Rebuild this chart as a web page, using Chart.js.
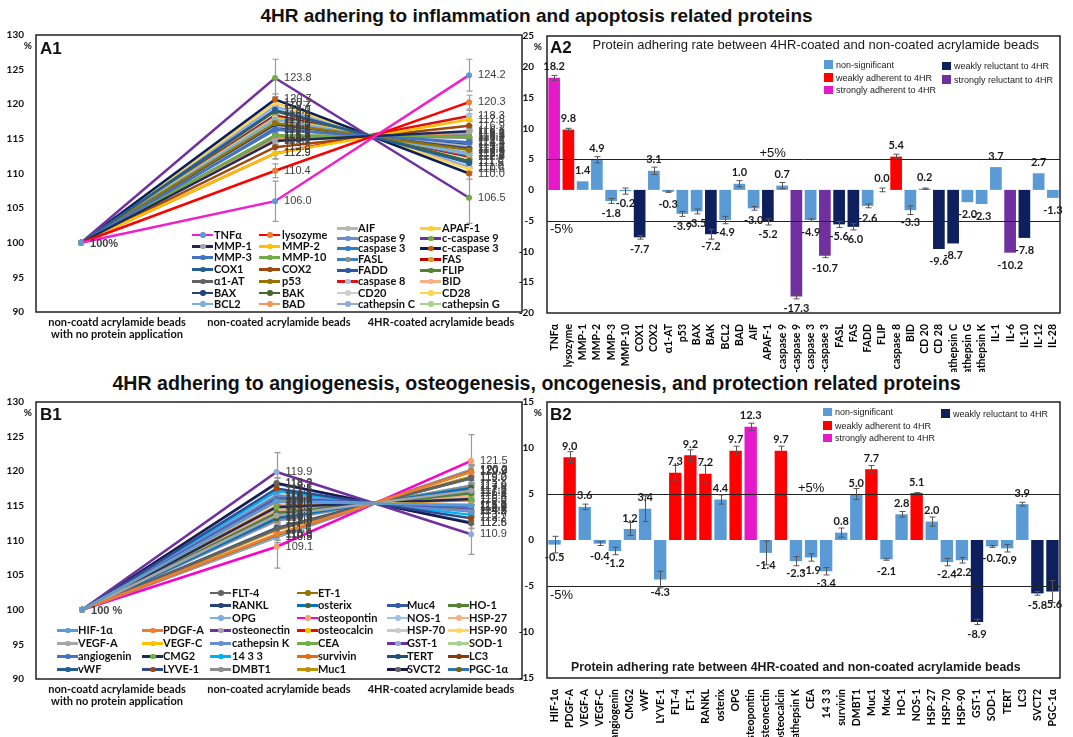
<!DOCTYPE html>
<html><head><meta charset="utf-8"><title>4HR adhering proteins</title>
<script src="https://cdn.jsdelivr.net/npm/chart.js@4.4.1/dist/chart.umd.min.js"></script>
<style>
html,body{margin:0;padding:0;background:#fff}
body{width:1073px;height:737px;position:relative;overflow:hidden}
canvas{position:absolute}
.title{position:absolute;left:0;width:1073px;text-align:center;font-family:"Liberation Sans",Arial,sans-serif;font-weight:bold;color:#111;line-height:22px}
.li{position:absolute;height:12px;white-space:nowrap;font:bold 11px Lato,sans-serif;color:#111;line-height:12px}
.li .ln{position:absolute;left:0;top:5px;width:21px;height:2.5px}
.li .dt{position:absolute;left:8px;top:3.5px;width:5.5px;height:5.5px;border-radius:50%}
.li .tx{position:absolute;top:0}
.bl{position:absolute;height:10px;font:9px "Liberation Sans",Arial,sans-serif;color:#222;white-space:nowrap;line-height:10px}
.bl .sq{position:absolute;left:0;top:0.5px;width:9px;height:8.5px}
.bl .tx{position:absolute;left:12px;top:0}
</style></head><body>
<div class="title" style="top:5px;font-size:19px">4HR adhering to inflammation and apoptosis related proteins</div>
<div class="title" style="top:372px;font-size:19.6px">4HR adhering to angiogenesis, osteogenesis, oncogenesis, and protection related proteins</div>
<canvas id="a1" width="530" height="372" style="left:0;top:0"></canvas>
<canvas id="a2" width="568" height="372" style="left:505px;top:0"></canvas>
<canvas id="b1" width="530" height="365" style="left:0;top:372px"></canvas>
<canvas id="b2" width="568" height="365" style="left:505px;top:372px"></canvas>
<div id="legends"></div>
<script>
// ================= DATA =================
const X_LABELS = [['non-coatd acrylamide beads','with no protein application'],['non-coated acrylamide beads'],['4HR-coated acrylamide beads']];
const START_VALUE = 100;

// ---- A1 (line chart) ----
const A1_names = ['TNFα','lysozyme','MMP-1','MMP-2','MMP-3','MMP-10','COX1','COX2','α1-AT','p53','BAX','BAK','BCL2','BAD','AIF','APAF-1','caspase 9','c-caspase 9','caspase 3','c-caspase 3','FASL','FAS','FADD','FLIP','caspase 8','BID','CD20','CD28','cathepsin C','cathepsin G'];
const A1_mid   = [106.0,110.4,114.7,112.9,116.3,115.5,119.2,113.8,115.5,117.3,117.1,119.0,117.8,114.9,116.9,118.0,115.0,123.8,117.8,120.7,118.2,118.4,116.7,115.4,112.9,117.0,115.3,120.2,119.7,116.4];
const A1_right = [124.2,120.3,116.1,117.8,114.5,115.3,111.5,116.9,115.2,113.4,113.6,111.8,112.9,115.9,113.9,112.8,115.7,106.5,112.9,110.0,112.6,112.4,114.1,115.4,118.3,113.7,115.5,110.6,111.0,114.4];
const A1_errMid   = [2.9,1.0,0.8,0.8,0.8,0.8,0.8,0.8,0.8,0.8,0.8,0.8,0.8,0.8,0.8,0.8,0.8,2.7,0.8,0.8,0.8,0.8,0.8,0.8,0.8,0.8,0.8,0.8,0.8,0.8];
const A1_errRight = [2.3,1.0,0.8,0.8,0.8,0.8,0.8,0.8,0.8,0.8,0.8,0.8,0.8,0.8,0.8,0.8,0.8,3.7,0.8,0.8,0.8,0.8,0.8,0.8,0.8,0.8,0.8,0.8,0.8,0.8];
const A1_yTicks = {min:90, max:130, step:5};

// ---- A2 (bar chart) ----
const A2_cats = ['TNFα','lysozyme','MMP-1','MMP-2','MMP-3','MMP-10','COX1','COX2','α1-AT','p53','BAX','BAK','BCL2','BAD','AIF','APAF-1','caspase 9','c-caspase 9','caspase 3','c-caspase 3','FASL','FAS','FADD','FLIP','caspase 8','BID','CD 20','CD 28','cathepsin C','cathepsin G','cathepsin K','IL-1','IL-6','IL-10','IL-12','IL-28'];
const A2_values = [18.2,9.8,1.4,4.9,-1.8,-0.2,-7.7,3.1,-0.3,-3.9,-3.5,-7.2,-4.9,1.0,-3.0,-5.2,0.7,-17.3,-4.9,-10.7,-5.6,-6.0,-2.6,0.0,5.4,-3.3,0.2,-9.6,-8.7,-2.0,-2.3,3.7,-10.2,-7.8,2.7,-1.3];
const A2_err = [0.4,0.2,0,0.5,0.4,0.5,0.3,0.6,0.1,0.4,0.4,0.8,0.6,0.5,0.3,0.5,0.5,0.4,0.2,0.3,0.5,0.5,0.3,0.3,0.4,0.7,0.1,0,0,0,0,0,0,0,0,0];
const A2_class = ['sa','wa','ns','ns','ns','ns','wr','ns','ns','ns','ns','wr','ns','ns','ns','wr','ns','sr','ns','sr','wr','wr','ns','ns','wa','ns','ns','wr','wr','ns','ns','ns','sr','wr','ns','ns'];
const A2_yTicks = {min:-20, max:25, step:5};

// ---- B1 (line chart) ----
const B1_names = ['HIF-1α','PDGF-A','VEGF-A','VEGF-C','angiogenin','CMG2','vWF','LYVE-1','FLT-4','ET-1','RANKL','osterix','OPG','osteopontin','osteonectin','osteocalcin','cathepsin K','CEA','14 3 3','survivin','DMBT1','Muc1','Muc4','HO-1','NOS-1','HSP-27','HSP-70','HSP-90','GST-1','SOD-1','TERT','LC3','SVCT2','PGC-1α'];
const B1_mid   = [115.6,110.9,113.6,115.6,116.0,114.8,113.7,117.5,111.7,110.8,111.8,113.2,110.5,109.1,116.1,110.5,116.5,116.3,117.1,115.0,112.9,111.5,116.4,114.0,112.8,114.4,116.6,116.5,119.9,115.7,115.8,113.4,118.3,118.2];
const B1_right = [115.1,119.9,117.2,115.2,114.8,116.0,117.1,113.2,119.0,120.0,119.0,117.6,120.2,121.5,114.7,120.2,114.2,114.4,113.7,115.8,117.9,119.2,114.3,116.8,117.9,116.4,114.2,114.3,110.9,115.0,114.9,117.3,112.5,112.6];
const B1_errMid   = [0.8,0.8,0.8,0.8,0.8,0.8,0.8,0.8,0.8,0.8,0.8,0.8,0.8,3.1,0.8,0.8,0.8,0.8,0.8,0.8,0.8,0.8,0.8,0.8,0.8,0.8,0.8,0.8,2.8,0.8,0.8,0.8,0.8,0.8];
const B1_errRight = [0.8,0.8,0.8,0.8,0.8,0.8,0.8,0.8,0.8,0.8,0.8,0.8,0.8,3.8,0.8,0.8,0.8,0.8,0.8,0.8,0.8,0.8,0.8,0.8,0.8,0.8,0.8,0.8,2.9,0.8,0.8,0.8,0.8,0.8];
const B1_yTicks = {min:90, max:130, step:5};

// ---- B2 (bar chart) ----
const B2_cats = ['HIF-1α','PDGF-A','VEGF-A','VEGF-C','angiogenin','CMG2','vWF','LYVE-1','FLT-4','ET-1','RANKL','osterix','OPG','osteopontin','osteonectin','osteocalcin','cathepsin K','CEA','14 3 3','survivin','DMBT1','Muc1','Muc4','HO-1','NOS-1','HSP-27','HSP-70','HSP-90','GST-1','SOD-1','TERT','LC3','SVCT2','PGC-1α'];
const B2_values = [-0.5,9.0,3.6,-0.4,-1.2,1.2,3.4,-4.3,7.3,9.2,7.2,4.4,9.7,12.3,-1.4,9.7,-2.3,-1.9,-3.4,0.8,5.0,7.7,-2.1,2.8,5.1,2.0,-2.4,-2.2,-8.9,-0.7,-0.9,3.9,-5.8,-5.6];
const B2_err = [0.9,0.6,0.3,0.2,0.4,0.7,1.4,0.9,0.8,0.6,0.9,0.5,0.5,0.4,1.3,0.5,0.5,0.4,0.4,0.5,0.6,0.4,0.1,0.3,0.05,0.5,0.4,0.3,0.3,0.1,0.4,0.2,0.2,1.2];
const B2_class = ['ns','wa','ns','ns','ns','ns','ns','ns','wa','wa','wa','ns','wa','sa','ns','wa','ns','ns','ns','ns','ns','wa','ns','ns','wa','ns','ns','ns','wr','ns','ns','ns','wr','wr'];
const B2_yTicks = {min:-15, max:15, step:5};

const REF_LINES = [5, -5];

// ================= STYLES =================
const A1_lineCol = ['#f01ecb','#ff0000','#1f2a5c','#ffc000','#4472c4','#70ad47','#255e91','#9e480e','#636363','#997300','#264478','#43682b','#7cafdd','#f1975a','#b7b7b7','#ffcd33','#698ed0','#7030a0','#327dc2','#0b1f5c','#3d7fc1','#c00000','#2f55a4','#548235','#e01010','#f4b183','#cfcfcf','#ffd54f','#8faadc','#a9d18e'];
const A1_markCol = ['#5b9bd5','#ed7d31','#a5a5a5','#ffc000','#4472c4','#70ad47','#255e91','#9e480e','#636363','#997300','#264478','#43682b','#7cafdd','#f1975a','#b7b7b7','#ffcd33','#698ed0','#70ad47','#327dc2','#c55a11','#8c8c8c','#d4a017','#2f55a4','#548235','#9dc3e6','#f4b183','#cfcfcf','#ffd54f','#8faadc','#a9d18e'];
const B1_lineCol = ['#5b9bd5','#ed7d31','#a5a5a5','#ffc000','#4472c4','#1f2a5c','#255e91','#2f4b8f','#636363','#997300','#264478','#0070c0','#7cafdd','#ff00cc','#7030a0','#ff0000','#698ed0','#70ad47','#00b0f0','#e46c0a','#8c8c8c','#bf9000','#335aa8','#548235','#9dc3e6','#f4b183','#c9c9c9','#ffd966','#7030a0','#a9d18e','#1f4e79','#843c0c','#1a1a4e','#2e75b6'];
const B1_markCol = ['#5b9bd5','#ed7d31','#a5a5a5','#ffc000','#4472c4','#70ad47','#255e91','#9e480e','#636363','#997300','#264478','#43682b','#7cafdd','#f4a070','#a5a5a5','#ffc000','#698ed0','#70ad47','#00b0f0','#e46c0a','#8c8c8c','#bf9000','#335aa8','#548235','#9dc3e6','#f4b183','#c9c9c9','#ffd966','#8faadc','#a9d18e','#1f4e79','#843c0c','#636363','#7f6000'];
const CLASS_COL = {ns:'#5b9bd5', wa:'#ff0000', sa:'#e619c8', wr:'#0d1f5c', sr:'#7030a0'};
const CLASS_TXT = {ns:'non-significant', wa:'weakly adherent to 4HR', sa:'strongly adherent to 4HR', wr:'weakly reluctant to 4HR', sr:'strongly reluctant to 4HR'};

const TICK_FONT = {family:'Lato', weight:'bold', size:10};

// ================= LINE CHARTS =================
function makeLineChart(id, o){
  const datasets = o.names.map((n,i)=>({
    label:n,
    data:[{x:1,y:START_VALUE},{x:2,y:o.mid[i]},{x:3,y:o.right[i]}],
    borderColor:o.lineCol[i], backgroundColor:o.markCol[i],
    pointBackgroundColor:o.markCol[i], pointBorderColor:o.markCol[i],
    pointRadius:3, pointBorderWidth:0, borderWidth:2.5, tension:0
  }));
  const plug = {id:'lp_'+id,
    beforeDatasetsDraw(c){
      const ctx=c.ctx, xs=c.scales.x, ys=c.scales.y;
      ctx.save(); ctx.strokeStyle='#9a9a9a'; ctx.lineWidth=1.2;
      o.names.forEach((n,i)=>{
        [[2,o.mid[i],o.errMid[i]],[3,o.right[i],o.errRight[i]]].forEach(([xv,v,e])=>{
          if(!e) return;
          const x=Math.round(xs.getPixelForValue(xv))+0.5, y1=ys.getPixelForValue(v+e), y2=ys.getPixelForValue(v-e);
          ctx.beginPath(); ctx.moveTo(x,y1); ctx.lineTo(x,y2);
          ctx.moveTo(x-3,y1); ctx.lineTo(x+3,y1); ctx.moveTo(x-3,y2); ctx.lineTo(x+3,y2); ctx.stroke();
        });
      });
      ctx.restore();
    },
    afterDatasetsDraw(c){
      const ctx=c.ctx, xs=c.scales.x, ys=c.scales.y;
      ctx.save(); ctx.font='11px "Liberation Sans", Arial'; ctx.fillStyle='#404040';
      ctx.textAlign='left'; ctx.textBaseline='middle';
      for(let i=o.names.length-1;i>=0;i--){
        ctx.fillText(o.mid[i].toFixed(1), xs.getPixelForValue(2)+9, ys.getPixelForValue(o.mid[i]));
        ctx.fillText(o.right[i].toFixed(1), xs.getPixelForValue(3)+9, ys.getPixelForValue(o.right[i]));
      }
      ctx.font='bold 11px "Liberation Sans", Arial';
      ctx.fillText(o.startLabel, xs.getPixelForValue(1)+9, ys.getPixelForValue(START_VALUE)+1);
      ctx.restore();
    },
    afterDraw(c){
      const ctx=c.ctx, ca=c.chartArea;
      ctx.save();
      ctx.strokeStyle='#222'; ctx.lineWidth=1.5;
      ctx.strokeRect(ca.left, ca.top, ca.right-ca.left, ca.bottom-ca.top);
      ctx.fillStyle='#111'; ctx.font='bold 17px "Liberation Sans", Arial'; ctx.textAlign='left'; ctx.textBaseline='alphabetic';
      ctx.fillText(o.panel, ca.left+4, ca.top+o.panelDy);
      ctx.font='bold 10px Lato'; ctx.textAlign='right'; ctx.textBaseline='middle'; ctx.fillStyle='#111';
      ctx.fillText('%', ca.left-4, ca.top+11);
      ctx.font='bold 11px Lato'; ctx.textAlign='center';
      const w=(ca.right-ca.left)/X_LABELS.length;
      X_LABELS.forEach((lines,i)=>{
        lines.forEach((t,k)=>ctx.fillText(t, ca.left+(i+0.5)*w, ca.bottom+10+k*12.5));
      });
      ctx.restore();
    }
  };
  return new Chart(document.getElementById(id), {
    type:'line', data:{datasets},
    options:{
      responsive:false, animation:false, devicePixelRatio:1,
      layout:{padding:o.pad},
      plugins:{legend:{display:false}, tooltip:{enabled:false}},
      scales:{
        x:{type:'linear', min:o.xMin, max:o.xMax, display:false},
        y:{min:o.yTicks.min, max:o.yTicks.max,
           ticks:{stepSize:o.yTicks.step, font:TICK_FONT, color:'#111', padding:4},
           grid:{display:false}, border:{display:false},
           afterFit(s){s.width=o.yW;}}
      }
    },
    plugins:[plug]
  });
}

// ================= BAR CHARTS =================
function makeBarChart(id, o){
  const plug = {id:'bp_'+id,
    afterDatasetsDraw(c){
      const ctx=c.ctx, ca=c.chartArea, xs=c.scales.x, ys=c.scales.y;
      ctx.save();
      ctx.strokeStyle='#222'; ctx.lineWidth=1;
      REF_LINES.forEach(v=>{const y=Math.round(ys.getPixelForValue(v))+0.5; ctx.beginPath(); ctx.moveTo(ca.left,y); ctx.lineTo(ca.right,y); ctx.stroke();});
      ctx.strokeStyle='#555'; ctx.lineWidth=1;
      o.values.forEach((v,i)=>{
        const e=o.err[i]; if(!e) return;
        const x=Math.round(xs.getPixelForValue(i))+0.5, y1=ys.getPixelForValue(v+e), y2=ys.getPixelForValue(v-e);
        ctx.beginPath(); ctx.moveTo(x,y1); ctx.lineTo(x,y2);
        ctx.moveTo(x-3,y1); ctx.lineTo(x+3,y1); ctx.moveTo(x-3,y2); ctx.lineTo(x+3,y2); ctx.stroke();
      });
      ctx.font='bold 11px Lato'; ctx.fillStyle='#1a1a1a'; ctx.textAlign='center'; ctx.textBaseline='middle';
      o.values.forEach((v,i)=>{
        const x=xs.getPixelForValue(i), y=ys.getPixelForValue(v);
        ctx.fillText(v.toFixed(1), x, v>=0 ? y-11 : y+12.5);
      });
      ctx.restore();
    },
    afterDraw(c){
      const ctx=c.ctx, ca=c.chartArea, ys=c.scales.y, W=ca.right-ca.left;
      ctx.save();
      ctx.strokeStyle='#222'; ctx.lineWidth=1.5;
      ctx.strokeRect(ca.left, ca.top, W, ca.bottom-ca.top);
      ctx.fillStyle='#111'; ctx.font='bold 17px "Liberation Sans", Arial'; ctx.textAlign='left'; ctx.textBaseline='alphabetic';
      ctx.fillText(o.panel, ca.left+3, ca.top+o.panelDy);
      ctx.font='bold 10px Lato'; ctx.textAlign='right'; ctx.textBaseline='middle'; ctx.fillStyle='#111';
      ctx.fillText('%', ca.left-5, ca.top+11);
      ctx.font='13px "Liberation Sans", Arial'; ctx.textAlign='center'; ctx.fillStyle='#111';
      ctx.fillText('+5%', ca.left+o.plusFrac*W, ys.getPixelForValue(5)-6);
      ctx.textAlign='left';
      ctx.fillText('-5%', ca.left+3, ys.getPixelForValue(-5)+9);
      ctx.font=o.subFont; ctx.textAlign='center'; ctx.fillStyle='#1a1a1a';
      ctx.fillText('Protein adhering rate between 4HR-coated and non-coated acrylamide beads', ca.left+o.subFrac*W, o.subTop ? ca.top+9 : ca.bottom-10);
      ctx.restore();
    }
  };
  return new Chart(document.getElementById(id), {
    type:'bar',
    data:{labels:o.cats, datasets:[{data:o.values, backgroundColor:o.cls.map(k=>CLASS_COL[k]), borderWidth:0, barPercentage:0.82, categoryPercentage:1}]},
    options:{
      responsive:false, animation:false, devicePixelRatio:1,
      layout:{padding:o.pad},
      plugins:{legend:{display:false}, tooltip:{enabled:false}},
      scales:{
        x:{type:'category', ticks:{autoSkip:false, minRotation:90, maxRotation:90, font:{family:'Lato',weight:'bold',size:10.5}, color:'#000', padding:3},
           grid:{display:false}, border:{display:false}, afterFit(s){s.height=o.xH;}},
        y:{min:o.yTicks.min, max:o.yTicks.max,
           ticks:{stepSize:o.yTicks.step, font:TICK_FONT, color:'#111', padding:5},
           grid:{display:false}, border:{display:false}, afterFit(s){s.width=o.yW;}}
      }
    },
    plugins:[plug]
  });
}

makeLineChart('a1', {names:A1_names, mid:A1_mid, right:A1_right, errMid:A1_errMid, errRight:A1_errRight,
  lineCol:A1_lineCol, markCol:A1_markCol, yTicks:A1_yTicks, xMin:0.768, xMax:3.273,
  pad:{left:0, top:35, right:8, bottom:60}, yW:36, panel:'A1', panelDy:19, startLabel:'100%'});
makeLineChart('b1', {names:B1_names, mid:B1_mid, right:B1_right, errMid:B1_errMid, errRight:B1_errRight,
  lineCol:B1_lineCol, markCol:B1_markCol, yTicks:B1_yTicks, xMin:0.763, xMax:3.262,
  pad:{left:0, top:30, right:8, bottom:58}, yW:36, panel:'B1', panelDy:18, startLabel:'100 %'});
makeBarChart('a2', {cats:A2_cats, values:A2_values, err:A2_err, cls:A2_class, yTicks:A2_yTicks,
  pad:{left:0, top:36, right:13, bottom:0}, yW:42, xH:59, panel:'A2', panelDy:17,
  plusFrac:0.44, subFrac:0.524, subTop:true, subFont:'13px "Liberation Sans", Arial'});
makeBarChart('b2', {cats:B2_cats, values:B2_values, err:B2_err, cls:B2_class, yTicks:B2_yTicks,
  pad:{left:0, top:30, right:13, bottom:0}, yW:42, xH:59, panel:'B2', panelDy:18,
  plusFrac:0.515, subFrac:0.485, subTop:false, subFont:'bold 12.3px "Liberation Sans", Arial'});

// ================= LEGENDS (HTML) =================
const host = document.getElementById('legends');
function lineItem(lx, tx, y, name, names, lc, mc){
  const i = names.indexOf(name);
  const d = document.createElement('div'); d.className='li';
  d.style.left=lx+'px'; d.style.top=(y-6)+'px';
  d.innerHTML = '<span class="ln" style="background:'+lc[i]+'"></span><span class="dt" style="background:'+mc[i]+'"></span><span class="tx" style="left:'+(tx-lx)+'px"></span>';
  d.querySelector('.tx').textContent = name;
  host.appendChild(d);
}
const A1_legendCols = [
  {lx:192, tx:214, ys:[234.7,246,257,269.3,281.3,292.7,303.7], items:['TNFα','MMP-1','MMP-3','COX1','α1-AT','BAX','BCL2']},
  {lx:259, tx:282, ys:[234.7,246,257,269.3,281.3,292.7,303.7], items:['lysozyme','MMP-2','MMP-10','COX2','p53','BAK','BAD']},
  {lx:337, tx:358, ys:[228,238,248,259.3,270.3,281.3,292.7,303.7], items:['AIF','caspase 9','caspase 3','FASL','FADD','caspase 8','CD20','cathepsin C']},
  {lx:420, tx:442, ys:[228,238,248,259.3,270.3,281.3,292.7,303.7], items:['APAF-1','c-caspase 9','c-caspase 3','FAS','FLIP','BID','CD28','cathepsin G']}
];
A1_legendCols.forEach(col=>col.items.forEach((n,k)=>lineItem(col.lx, col.tx, col.ys[k], n, A1_names, A1_lineCol, A1_markCol)));

const B1_cols = [[57,78],[142,163],[210,232],[297,318],[387,407],[448,469]];
const B1_rowsY = [592.5,605,617.5,630,643,656,669];
const B1_legendRows = [
  [null,null,'FLT-4','ET-1'],
  [null,null,'RANKL','osterix','Muc4','HO-1'],
  [null,null,'OPG','osteopontin','NOS-1','HSP-27'],
  ['HIF-1α','PDGF-A','osteonectin','osteocalcin','HSP-70','HSP-90'],
  ['VEGF-A','VEGF-C','cathepsin K','CEA','GST-1','SOD-1'],
  ['angiogenin','CMG2','14 3 3','survivin','TERT','LC3'],
  ['vWF','LYVE-1','DMBT1','Muc1','SVCT2','PGC-1α']
];
B1_legendRows.forEach((row,r)=>row.forEach((n,k)=>{ if(n) lineItem(B1_cols[k][0], B1_cols[k][1], B1_rowsY[r], n, B1_names, B1_lineCol, B1_markCol); }));

function boxItem(x, y, cls){
  const d=document.createElement('div'); d.className='bl';
  d.style.left=x+'px'; d.style.top=y+'px';
  d.innerHTML='<span class="sq" style="background:'+CLASS_COL[cls]+'"></span><span class="tx"></span>';
  d.querySelector('.tx').textContent=CLASS_TXT[cls];
  host.appendChild(d);
}
boxItem(824,59.5,'ns'); boxItem(824,72.5,'wa'); boxItem(824,85,'sa');
boxItem(942,61,'wr'); boxItem(942,74.5,'sr');
boxItem(823,407,'ns'); boxItem(823,420.5,'wa'); boxItem(823,433,'sa');
boxItem(941,408.5,'wr');
</script>
</body></html>
